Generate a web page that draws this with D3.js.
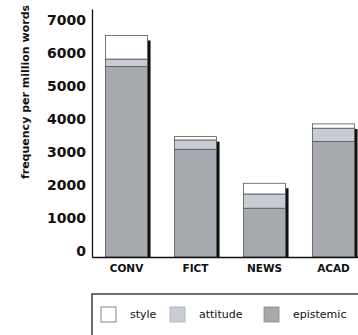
<!DOCTYPE html>
<html>
<head>
<meta charset="utf-8">
<script src="https://cdn.jsdelivr.net/npm/d3@7"></script>
<style>
  html, body { margin: 0; padding: 0; background: #fff; }
  svg { display: block; }
</style>
</head>
<body>
<svg id="chart" width="358" height="335"></svg>
<script>
const categories = ["CONV", "FICT", "NEWS", "ACAD"];
const epistemic = [5760, 3260, 1475, 3490];
const attitude = [225, 280, 430, 405];
const style = [715, 100, 325, 130];
const yTicks = [0, 1000, 2000, 3000, 4000, 5000, 6000, 7000];
const legendLabels = ["style", "attitude", "epistemic"];
const yTitle = "frequency per million words";

const colors = { epistemic: "#a6a9ae", attitude: "#c8ccd5", style: "#ffffff" };

const rows = categories.map((c, i) => ({ cat: c, epistemic: epistemic[i], attitude: attitude[i], style: style[i] }));
const stack = d3.stack().keys(["epistemic", "attitude", "style"]);
const series = stack(rows);

const svg = d3.select("#chart");
const font = "'DejaVu Sans', sans-serif";

const x = d3.scaleBand().domain(categories).range([92, 368]).paddingInner(0.39).paddingOuter(0.195);
const y = d3.scaleLinear().domain([0, 7500]).range([257, 9]);

// shadows
svg.append("g").selectAll("rect").data(rows).join("rect")
  .attr("x", d => x(d.cat) + x.bandwidth() - 0.5)
  .attr("y", d => y(d.epistemic + d.attitude + d.style) + 5)
  .attr("width", 3.5)
  .attr("height", d => y(0) - y(d.epistemic + d.attitude + d.style) - 5)
  .attr("fill", "#111");

// stacked bars
svg.append("g").selectAll("g").data(series).join("g")
  .attr("fill", s => colors[s.key])
  .selectAll("rect").data(s => s).join("rect")
  .attr("x", d => x(d.data.cat))
  .attr("y", d => y(d[1]))
  .attr("width", x.bandwidth())
  .attr("height", d => y(d[0]) - y(d[1]))
  .attr("stroke", "#555")
  .attr("stroke-width", 0.8);

// y axis
const yAxis = svg.append("g").attr("transform", "translate(92,0)")
  .call(d3.axisLeft(y).tickValues(yTicks).tickSize(0).tickPadding(6).tickFormat(d3.format("d")));
yAxis.select(".domain").attr("stroke", "#111").attr("stroke-width", 1.3);
yAxis.selectAll("text")
  .attr("font-family", font).attr("font-size", 14).attr("font-weight", "bold")
  .attr("fill", "#111").attr("dy", "-0.08em");

// x axis
const xAxis = svg.append("g").attr("transform", "translate(0,257)")
  .call(d3.axisBottom(x).tickSize(0).tickPadding(8));
xAxis.select(".domain").attr("stroke", "#111").attr("stroke-width", 1.5);
xAxis.selectAll("text")
  .attr("font-family", font).attr("font-size", 10.5).attr("font-weight", "bold")
  .attr("fill", "#111");

// y title
svg.append("text")
  .attr("transform", "translate(25.5,92) rotate(-90)")
  .attr("text-anchor", "middle")
  .attr("dominant-baseline", "central")
  .attr("font-family", font).attr("font-size", 11).attr("font-weight", "bold")
  .attr("fill", "#111")
  .text(yTitle);

// legend
svg.append("rect")
  .attr("x", 92).attr("y", 294).attr("width", 300).attr("height", 60)
  .attr("fill", "none").attr("stroke", "#222").attr("stroke-width", 1.3);

const legendX = [101, 170, 264];
const legendFill = [colors.style, colors.attitude, colors.epistemic];
const legendStroke = ["#666", "#aab", "#888"];
const lg = svg.append("g").selectAll("g").data(legendLabels).join("g")
  .attr("transform", (d, i) => `translate(${legendX[i]},307)`);
lg.append("rect")
  .attr("width", 15).attr("height", 15)
  .attr("fill", (d, i) => legendFill[i])
  .attr("stroke", (d, i) => legendStroke[i]).attr("stroke-width", 0.8);
lg.append("text")
  .attr("x", 29).attr("y", 7.5)
  .attr("dominant-baseline", "central")
  .attr("font-family", font).attr("font-size", 11)
  .attr("fill", "#111")
  .text(d => d);
</script>
</body>
</html>
